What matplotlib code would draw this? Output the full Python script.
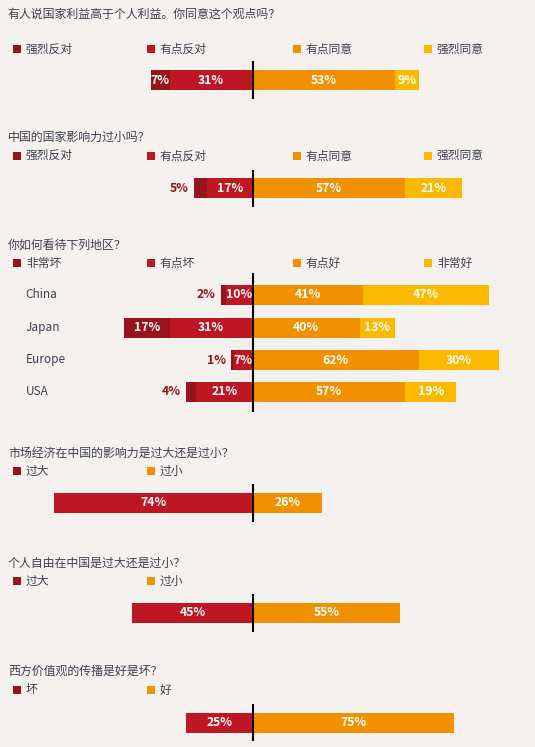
import matplotlib
matplotlib.use("Agg")
import matplotlib.pyplot as plt

plt.rcParams['font.family'] = 'Noto Sans CJK SC'

# ---------------- data ----------------
q1_title = "有人说国家利益高于个人利益。你同意这个观点吗？"
q1_legend = ["强烈反对", "有点反对", "有点同意", "强烈同意"]
q1_values = [7, 31, 53, 9]

q2_title = "中国的国家影响力过小吗？"
q2_legend = ["强烈反对", "有点反对", "有点同意", "强烈同意"]
q2_values = [5, 17, 57, 21]

q3_title = "你如何看待下列地区？"
q3_legend = ["非常坏", "有点坏", "有点好", "非常好"]
q3_regions = ["China", "Japan", "Europe", "USA"]
q3_very_bad = [2, 17, 1, 4]
q3_bad = [10, 31, 7, 21]
q3_good = [41, 40, 62, 57]
q3_very_good = [47, 13, 30, 19]

q4_title = "市场经济在中国的影响力是过大还是过小？"
q4_legend = ["过大", "过小"]
q4_values = [74, 26]

q5_title = "个人自由在中国是过大还是过小？"
q5_legend = ["过大", "过小"]
q5_values = [45, 55]

q6_title = "西方价值观的传播是好是坏？"
q6_legend = ["坏", "好"]
q6_values = [25, 75]

# ---------------- style ----------------
BG = "#F5F1EE"
DARK = "#98141C"
RED = "#BE1622"
ORANGE = "#F29100"
YELLOW = "#FBBA00"
TXT = "#3E4050"

W, H = 535, 747
CX = 252.7      # pixel x of zero line
PPU = 2.68      # pixels per percent

fig = plt.figure(figsize=(W / 100, H / 100), dpi=100, facecolor=BG)
ax = fig.add_axes([0, 0, 1, 1])
ax.set_facecolor(BG)
ax.set_xlim(-CX / PPU, (W - CX) / PPU)
ax.set_ylim(H, 0)
ax.axis("off")


def px(x):
    return (x - CX) / PPU


BAR_H = 20
FS_T = 8.6
FS_L = 8.5
FS_V = 8.8


def title(y, s):
    ax.text(px(8), y, s, fontsize=FS_T, color=TXT, va="center", ha="left")


def legend(y, labels, colors):
    xs = [13, 147, 293, 424]
    for i, (lab, c) in enumerate(zip(labels, colors)):
        ax.bar(px(xs[i]), 8, width=8 / PPU, bottom=y - 4, color=c,
               align="edge", linewidth=0)
        ax.text(px(xs[i] + 13), y, lab, fontsize=FS_L, color=TXT,
                va="center", ha="left")


def diverging(y, neg, pos, neg_colors, pos_colors):
    left = 0
    for v, c in zip(neg, neg_colors):
        ax.barh(y, -v, left=-left, height=BAR_H, color=c, linewidth=0)
        if v >= 6:
            ax.text(-left - v / 2, y, f"{v}%", color="white", fontsize=FS_V,
                    fontweight="bold", ha="center", va="center")
        else:
            ax.text(-left - v - 5 / PPU, y, f"{v}%", color=DARK, fontsize=FS_V,
                    fontweight="bold", ha="right", va="center")
        left += v
    right = 0
    for v, c in zip(pos, pos_colors):
        ax.barh(y, v, left=right, height=BAR_H, color=c, linewidth=0)
        ax.text(right + v / 2, y, f"{v}%", color="white", fontsize=FS_V,
                fontweight="bold", ha="center", va="center")
        right += v


def zero_line(y0, y1):
    ax.plot([0, 0], [y0, y1], color="black", lw=1.5, solid_capstyle="butt")


four = [DARK, RED, ORANGE, YELLOW]

# Q1
title(14, q1_title)
legend(49, q1_legend, four)
diverging(80, [q1_values[1], q1_values[0]], [q1_values[2], q1_values[3]],
          [RED, DARK], [ORANGE, YELLOW])
zero_line(61, 98.5)

# Q2
title(137.3, q2_title)
legend(155.7, q2_legend, four)
diverging(188, [q2_values[1], q2_values[0]], [q2_values[2], q2_values[3]],
          [RED, DARK], [ORANGE, YELLOW])
zero_line(170, 207)

# Q3
title(245, q3_title)
legend(263, q3_legend, four)
row_y = [295, 327.7, 360, 391.7]
for i, reg in enumerate(q3_regions):
    y = row_y[i]
    ax.text(px(25.5), y, reg, fontsize=FS_L, color=TXT, va="center", ha="left")
    diverging(y, [q3_bad[i], q3_very_bad[i]], [q3_good[i], q3_very_good[i]],
              [RED, DARK], [ORANGE, YELLOW])
zero_line(273.3, 412)

# Q4
title(453, q4_title)
legend(471, q4_legend, [DARK, ORANGE])
diverging(503, [q4_values[0]], [q4_values[1]], [RED], [ORANGE])
zero_line(484, 522)

# Q5
title(563, q5_title)
legend(581, q5_legend, [DARK, ORANGE])
diverging(612.7, [q5_values[0]], [q5_values[1]], [RED], [ORANGE])
zero_line(594, 631.7)

# Q6
title(671, q6_title)
legend(690, q6_legend, [DARK, ORANGE])
diverging(722.7, [q6_values[0]], [q6_values[1]], [RED], [ORANGE])
zero_line(704, 740.7)

fig.savefig("out.png", dpi=100, facecolor=BG)
